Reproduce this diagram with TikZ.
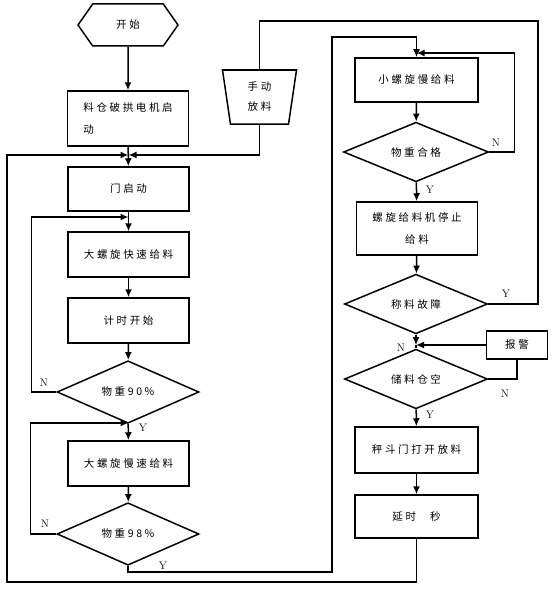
\documentclass[tikz,border=0pt]{standalone}
\usepackage{fontspec}
\usepackage{tikz}
\usetikzlibrary{arrows.meta,shapes.geometric,shapes.symbols}
\newfontfamily\cjk[LetterSpace=25]{Noto Sans CJK SC}
\tikzset{
  procnode/.style={rectangle, draw=black, line width=1.5pt, fill=white,
    minimum width=121pt, minimum height=45pt, font=\cjk\fontsize{10.5}{22}\selectfont, align=center},
  decnode/.style={diamond, draw=black, line width=1.5pt, fill=white, inner sep=0pt,
    minimum width=142pt, minimum height=54pt, font=\cjk\fontsize{10.5}{12}\selectfont},
  startnode/.style={signal, signal to=west and east, signal pointer angle=110, draw=black,
    line width=1.5pt, minimum width=100pt, minimum height=42pt, inner sep=0pt,
    font=\cjk\fontsize{10.5}{12}\selectfont},
  manualnode/.style={trapezium, shape border rotate=180, trapezium angle=75,
    trapezium stretches body, draw=black, line width=1.5pt, minimum width=74pt,
    minimum height=54pt, inner sep=0pt, align=center, font=\cjk\fontsize{10.5}{20}\selectfont},
  alarmnode/.style={procnode, minimum width=61pt, minimum height=28pt},
  flowedge/.style={-{Latex[length=8pt,width=7pt]}, draw=black, line width=1.5pt},
  plainedge/.style={draw=black, line width=1.5pt},
  ynlabel/.style={font=\fontsize{11}{13}\selectfont, inner sep=1pt},
}
\begin{document}
\begin{tikzpicture}[x=1pt, y=-1pt]
  \useasboundingbox (0,0) rectangle (558,594);
  % left column
  \node[startnode] (start) at (128,25) {开始};
  \node[procnode, minimum height=55pt, align=left] (silo) at (128,118.5) {料仓破拱电机启\\动};
  \node[procnode, minimum height=44pt] (gate) at (128.5,189) {门启动};
  \node[procnode] (fastfeed) at (128.5,254.5) {大螺旋快速给料};
  \node[procnode] (timer) at (128.5,320.5) {计时开始};
  \node[decnode, minimum height=53pt] (wninety) at (128,392) {物重90\%};
  \node[procnode] (slowfeed) at (128.5,463.5) {大螺旋慢速给料};
  \node[decnode, minimum height=52pt] (wninetyeight) at (128,534) {物重98\%};
  \node[manualnode] (manual) at (259.5,97) {手动\\放料};
  % right column
  \node[procnode, minimum width=123pt, minimum height=44pt] (finefeed) at (416.5,80) {小螺旋慢给料};
  \node[decnode, minimum width=145pt, minimum height=53pt] (wok) at (416,152) {物重合格};
  \node[procnode, minimum height=53pt] (stopfeed) at (417,228.5) {螺旋给料机停止\\给料};
  \node[decnode, minimum width=143pt, minimum height=55pt] (fault) at (416,304) {称料故障};
  \node[alarmnode] (alarm) at (517,345) {报警};
  \node[decnode, minimum width=143pt, minimum height=57pt] (empty) at (416,379) {储料仓空};
  \node[procnode, minimum width=123pt, minimum height=46pt] (discharge) at (416.5,450) {秤斗门打开放料};
  \node[procnode, minimum width=123pt, minimum height=43pt] (delay) at (416.5,516.5) {延时\hspace{14pt}秒};

  \coordinate (jgate) at (128.5,155);
  \coordinate (jfast) at (128.5,217);
  \coordinate (jslow) at (128.5,423);
  \coordinate (jfine) at (416.5,53);
  \coordinate (jempty) at (416,345);
  \coordinate (botR) at (416.5,582);
  \coordinate (botL) at (7,582);
  \coordinate (midB) at (332,572);
  \coordinate (midT) at (332,37);
  \coordinate (topR) at (538,21);

  \draw[flowedge] (start) -- (silo);
  \draw[flowedge] (silo) -- (gate);
  \draw[flowedge] (gate) -- (fastfeed);
  \draw[flowedge] (fastfeed) -- (timer);
  \draw[flowedge] (timer) -- (wninety);
  \draw[flowedge] (wninety) -- (slowfeed);
  \draw[flowedge] (slowfeed) -- (wninetyeight);
  \draw[flowedge] (wninety.west) -- ++(-25,0) |- (jfast);
  \draw[flowedge] (wninetyeight.west) -- ++(-26,0) |- (jslow);
  \draw[flowedge] (wninetyeight) |- (midB) -- (midT) -| (finefeed);
  \draw[flowedge] (delay) -- (botR) -- (botL) |- (jgate);
  \draw[flowedge] (manual) |- (jgate);
  \draw[plainedge] (fault.east) -| (topR) -| (manual);

  \draw[flowedge] (finefeed) -- (wok);
  \draw[flowedge] (wok.east) -- ++(25,0) |- (jfine);
  \draw[flowedge] (wok) -- (stopfeed);
  \draw[flowedge] (stopfeed) -- (fault);
  \draw[flowedge] (fault) -- (jempty);
  \draw[plainedge] (jempty) -- (empty);
  \draw[flowedge] (alarm) -- (jempty);
  \draw[plainedge] (empty.east) -| (alarm);
  \draw[flowedge] (empty) -- (discharge);
  \draw[flowedge] (discharge) -- (delay);

  \node[ynlabel] (n1) at (44,383) {N};
  \node[ynlabel] (y1) at (143,428) {Y};
  \node[ynlabel] (n2) at (45,524) {N};
  \node[ynlabel] (y2) at (163,566) {Y};
  \node[ynlabel] (n3) at (496,143) {N};
  \node[ynlabel] (y3) at (430,190) {Y};
  \node[ynlabel] (y4) at (506,294) {Y};
  \node[ynlabel] (n4) at (401,348) {N};
  \node[ynlabel] (n5) at (505,394) {N};
  \node[ynlabel] (y5) at (430,415) {Y};
\end{tikzpicture}
\end{document}
